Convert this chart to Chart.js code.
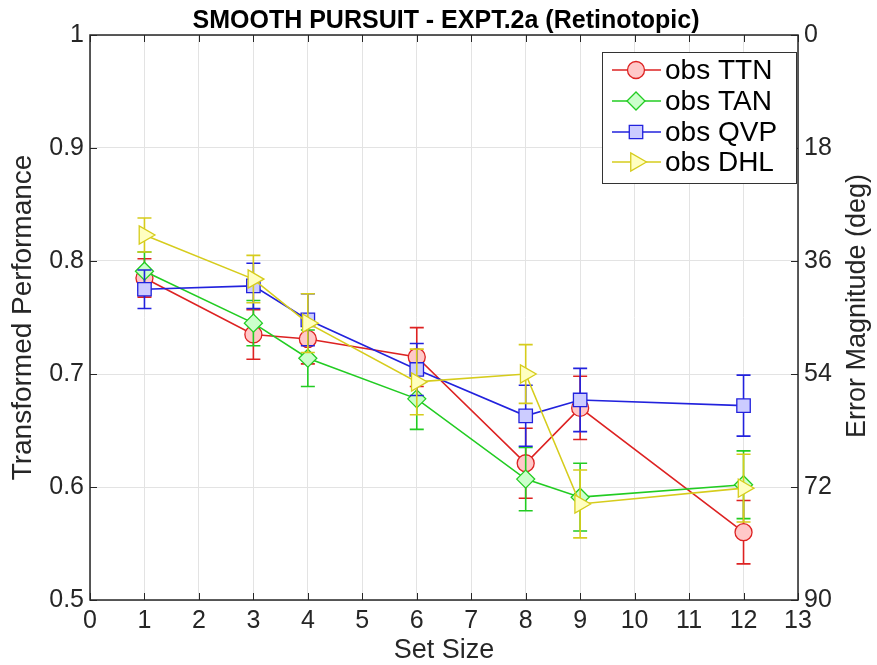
<!DOCTYPE html>
<html lang="en">
<head>
    <meta charset="UTF-8">
    <title>Smooth Pursuit - Expt.2a</title>
    <script src="https://cdn.jsdelivr.net/npm/chart.js"></script>
    <style>
        html, body { margin: 0; padding: 0; background: #fff; }
        .chart-container { position: relative; width: 877px; height: 665px; }
    </style>
</head>
<body>
    <div class="chart-container">
        <canvas id="chart"></canvas>
    </div>

    <script>
        // data
        const setSizes = [1, 3, 4, 6, 8, 9, 12];

        const ttnMean = [0.785, 0.735, 0.731, 0.715, 0.621, 0.670, 0.560];
        const ttnErr  = [0.017, 0.022, 0.022, 0.026, 0.031, 0.028, 0.028];

        const tanMean = [0.791, 0.745, 0.714, 0.678, 0.607, 0.591, 0.602];
        const tanErr  = [0.017, 0.020, 0.025, 0.027, 0.028, 0.030, 0.030];

        const qvpMean = [0.775, 0.778, 0.748, 0.704, 0.663, 0.677, 0.672];
        const qvpErr  = [0.017, 0.020, 0.023, 0.023, 0.027, 0.028, 0.027];

        const dhlMean = [0.823, 0.784, 0.745, 0.693, 0.700, 0.585, 0.599];
        const dhlErr  = [0.015, 0.021, 0.026, 0.029, 0.026, 0.030, 0.030];

        const xTicks = [0, 1, 2, 3, 4, 5, 6, 7, 8, 9, 10, 11, 12, 13];
        const yTicks = [0.5, 0.6, 0.7, 0.8, 0.9, 1];
        const errTicks = [0, 18, 36, 54, 72, 90];

        const FONT = "'Liberation Sans', Arial, Helvetica, sans-serif";
        const GRID = '#e3e3e3';
        const AXIS = '#262626';

        function series(label, means, errs, color, fill, style, radius, rotation, order) {
            return {
                label: label,
                data: setSizes.map((x, i) => ({ x: x, y: means[i] })),
                errors: errs,
                borderColor: color,
                backgroundColor: fill,
                borderWidth: 1.6,
                pointStyle: style,
                pointRadius: radius,
                pointRotation: rotation,
                pointBackgroundColor: fill,
                pointBorderColor: color,
                pointBorderWidth: 1.3,
                tension: 0,
                fill: false,
                order: order
            };
        }

        const datasets = [
            series('obs TTN', ttnMean, ttnErr, '#dd2222', '#ffc8c8', 'circle', 8.5, 0, 4),
            series('obs TAN', tanMean, tanErr, '#22cc22', '#ccffcc', 'rectRot', 9, 0, 3),
            series('obs QVP', qvpMean, qvpErr, '#2222dd', '#ccccff', 'rect', 9.5, 0, 2),
            series('obs DHL', dhlMean, dhlErr, '#d6cc1c', '#ffffc0', 'triangle', 10.5, 90, 1)
        ];

        // error bars, drawn just before each dataset's own line
        const errorBars = {
            id: 'errorBars',
            beforeDatasetDraw(chart, args) {
                const ds = chart.data.datasets[args.index];
                const xs = chart.scales.x, ys = chart.scales.y;
                const ctx = chart.ctx;
                const cap = 7;
                ctx.save();
                ctx.strokeStyle = ds.borderColor;
                ctx.lineWidth = 1.6;
                ds.data.forEach((p, i) => {
                    const px = xs.getPixelForValue(p.x);
                    const top = ys.getPixelForValue(p.y + ds.errors[i]);
                    const bot = ys.getPixelForValue(p.y - ds.errors[i]);
                    ctx.beginPath();
                    ctx.moveTo(px, top); ctx.lineTo(px, bot);
                    ctx.moveTo(px - cap, top); ctx.lineTo(px + cap, top);
                    ctx.moveTo(px - cap, bot); ctx.lineTo(px + cap, bot);
                    ctx.stroke();
                });
                ctx.restore();
            }
        };

        // box, inward ticks, title, right label and legend (matlab look)
        const frame = {
            id: 'frame',
            afterDatasetsDraw(chart) {
                const { ctx, chartArea: a, scales } = chart;
                const t = 7;
                ctx.save();
                ctx.strokeStyle = AXIS;
                ctx.lineWidth = 1;
                ctx.beginPath();
                xTicks.forEach(v => {
                    const px = Math.round(scales.x.getPixelForValue(v)) + 0.5;
                    ctx.moveTo(px, a.bottom); ctx.lineTo(px, a.bottom - t);
                    ctx.moveTo(px, a.top); ctx.lineTo(px, a.top + t);
                });
                yTicks.forEach(v => {
                    const py = Math.round(scales.y.getPixelForValue(v)) + 0.5;
                    ctx.moveTo(a.left, py); ctx.lineTo(a.left + t, py);
                });
                errTicks.forEach(v => {
                    const py = Math.round(scales.y2.getPixelForValue(v)) + 0.5;
                    ctx.moveTo(a.right, py); ctx.lineTo(a.right - t, py);
                });
                ctx.stroke();
                ctx.lineWidth = 1.5;
                ctx.strokeRect(a.left, a.top, a.right - a.left, a.bottom - a.top);
                ctx.restore();
            },
            afterDraw(chart) {
                const ctx = chart.ctx;
                const a = chart.chartArea;
                ctx.save();
                ctx.fillStyle = '#000';
                ctx.font = 'bold 25px ' + FONT;
                ctx.textAlign = 'center';
                ctx.textBaseline = 'alphabetic';
                ctx.fillText('SMOOTH PURSUIT - EXPT.2a (Retinotopic)', (a.left + a.right) / 2 + 2, 28);

                // right axis label, reads bottom to top like the left one
                ctx.save();
                ctx.translate(858, 306);
                ctx.rotate(-Math.PI / 2);
                ctx.fillStyle = '#262626';
                ctx.font = '27px ' + FONT;
                ctx.textBaseline = 'middle';
                ctx.fillText('Error Magnitude (deg)', 0, 0);
                ctx.restore();

                // legend
                const bx = 602, by = 52, bw = 194, bh = 131;
                ctx.fillStyle = '#fff';
                ctx.fillRect(bx, by, bw, bh);
                ctx.strokeStyle = '#333';
                ctx.lineWidth = 1;
                ctx.strokeRect(bx + 0.5, by + 0.5, bw, bh);
                const rows = [70, 101, 132, 162];
                chart.data.datasets.forEach((ds, i) => {
                    const y = rows[i];
                    ctx.strokeStyle = ds.borderColor;
                    ctx.lineWidth = 1.6;
                    ctx.beginPath();
                    ctx.moveTo(612, y); ctx.lineTo(661, y);
                    ctx.stroke();
                    ctx.fillStyle = ds.pointBackgroundColor;
                    ctx.lineWidth = ds.pointBorderWidth;
                    Chart.helpers.drawPoint(ctx, {
                        pointStyle: ds.pointStyle,
                        radius: ds.pointRadius,
                        rotation: ds.pointRotation,
                        borderWidth: ds.pointBorderWidth
                    }, 636, y);
                    ctx.fillStyle = '#000';
                    ctx.font = '28px ' + FONT;
                    ctx.textAlign = 'left';
                    ctx.textBaseline = 'middle';
                    ctx.fillText(ds.label, 665, y + 1);
                });
                ctx.restore();
            }
        };

        const tickFont = { family: FONT, size: 25 };

        new Chart(document.getElementById('chart'), {
            type: 'line',
            data: { datasets: datasets },
            options: {
                responsive: true,
                maintainAspectRatio: false,
                animation: false,
                layout: { padding: { top: 35, left: 0, right: 0, bottom: 0 } },
                plugins: {
                    legend: { display: false },
                    title: { display: false },
                    tooltip: { enabled: false }
                },
                scales: {
                    x: {
                        type: 'linear',
                        min: 0,
                        max: 13,
                        afterBuildTicks: s => { s.ticks = xTicks.map(v => ({ value: v })); },
                        afterFit: s => { s.height = 65; },
                        grid: { color: GRID, drawTicks: false },
                        border: { display: false },
                        ticks: { color: '#262626', font: tickFont, padding: 6, maxRotation: 0, autoSkip: false },
                        title: { display: true, text: 'Set Size', color: '#262626', font: { family: FONT, size: 27 }, padding: { top: 0, bottom: -2 } }
                    },
                    y: {
                        type: 'linear',
                        position: 'left',
                        min: 0.5,
                        max: 1,
                        afterBuildTicks: s => { s.ticks = yTicks.map(v => ({ value: v })); },
                        afterFit: s => { s.width = 90; },
                        grid: { color: GRID, drawTicks: false },
                        border: { display: false },
                        ticks: {
                            color: '#262626', font: tickFont, padding: 6,
                            callback: v => String(Math.round(v * 10) / 10)
                        },
                        title: { display: true, text: 'Transformed Performance', color: '#262626', font: { family: FONT, size: 28 }, padding: { top: 6, bottom: 0 } }
                    },
                    y2: {
                        type: 'linear',
                        position: 'right',
                        reverse: true,
                        min: 0,
                        max: 90,
                        afterBuildTicks: s => { s.ticks = errTicks.map(v => ({ value: v })); },
                        afterFit: s => { s.width = 79; },
                        grid: { display: false, drawTicks: false },
                        border: { display: false },
                        ticks: { color: '#262626', font: tickFont, padding: 6 },
                        title: { display: false }
                    }
                }
            },
            plugins: [errorBars, frame]
        });
    </script>
</body>
</html>
